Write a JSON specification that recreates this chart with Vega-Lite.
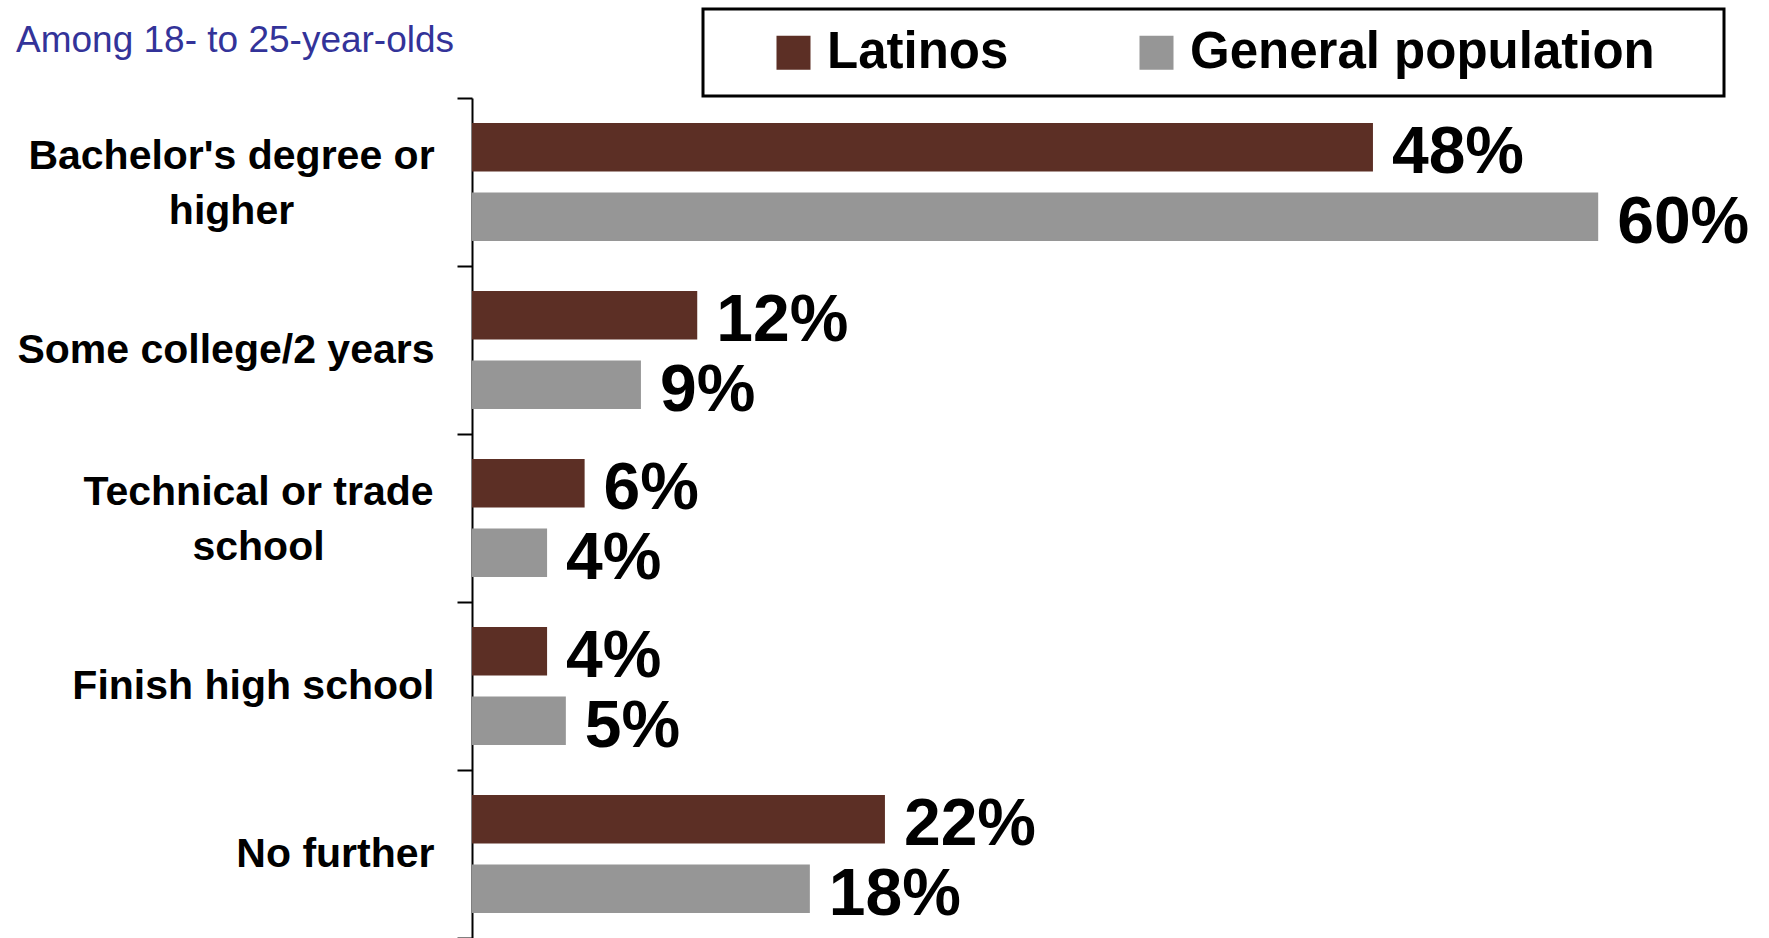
{
  "$schema": "https://vega.github.io/schema/vega-lite/v6.json",
  "width": 1297,
  "height": 840,
  "autosize": {"type": "none"},
  "padding": {"left": 472, "top": 98, "right": 0, "bottom": 0},
  "background": "white",
  "title": {
    "text": "Among 18- to 25-year-olds",
    "anchor": "start",
    "frame": "group",
    "orient": "top",
    "offset": 0,
    "dx": -456,
    "dy": 81,
    "baseline": "alphabetic",
    "font": "Liberation Sans",
    "fontSize": 37,
    "fontWeight": "normal",
    "color": "#333399"
  },
  "data": {
    "values": [
      {"level": "Bachelor's degree or higher", "group": "Latinos", "share": 0.48},
      {"level": "Bachelor's degree or higher", "group": "General population", "share": 0.60},
      {"level": "Some college/2 years", "group": "Latinos", "share": 0.12},
      {"level": "Some college/2 years", "group": "General population", "share": 0.09},
      {"level": "Technical or trade school", "group": "Latinos", "share": 0.06},
      {"level": "Technical or trade school", "group": "General population", "share": 0.04},
      {"level": "Finish high school", "group": "Latinos", "share": 0.04},
      {"level": "Finish high school", "group": "General population", "share": 0.05},
      {"level": "No further", "group": "Latinos", "share": 0.22},
      {"level": "No further", "group": "General population", "share": 0.18}
    ]
  },
  "encoding": {
    "y": {
      "field": "level",
      "type": "nominal",
      "sort": ["Bachelor's degree or higher", "Some college/2 years", "Technical or trade school", "Finish high school", "No further"],
      "scale": {"paddingInner": 0, "paddingOuter": 0},
      "title": null,
      "axis": {
        "domainColor": "black",
        "domainWidth": 2,
        "tickColor": "black",
        "tickWidth": 2,
        "tickSize": 15,
        "tickBand": "extent",
        "grid": false,
        "labelFont": "Liberation Sans",
        "labelFontWeight": "bold",
        "labelFontSize": 41,
        "labelColor": "black",
        "labelLimit": 600,
        "labelLineHeight": 55,
        "labelBaseline": "middle",
        "labelAlign": {"condition": {"test": "datum.value == \"Bachelor's degree or higher\" || datum.value == 'Technical or trade school'", "value": "center"}, "value": "right"},
        "labelPadding": {"condition": [{"test": "datum.value == \"Bachelor's degree or higher\"", "value": 226}, {"test": "datum.value == 'Technical or trade school'", "value": 199}], "value": 23},
        "labelOffset": {"condition": {"test": "datum.value == \"Bachelor's degree or higher\" || datum.value == 'Technical or trade school'", "value": -26}, "value": 0},
        "labelExpr": "datum.value == \"Bachelor's degree or higher\" ? [\"Bachelor's degree or\", \"higher\"] : datum.value == 'Technical or trade school' ? ['Technical or trade', 'school'] : datum.label"
      }
    },
    "yOffset": {
      "field": "group",
      "type": "nominal",
      "sort": ["Latinos", "General population"],
      "scale": {"paddingInner": 0.3, "paddingOuter": 0.36}
    },
    "x": {
      "field": "share",
      "type": "quantitative",
      "scale": {"domain": [0, 0.691], "nice": false, "zero": true},
      "axis": null
    }
  },
  "layer": [
    {
      "mark": {"type": "bar"},
      "encoding": {
        "color": {
          "field": "group",
          "type": "nominal",
          "sort": ["Latinos", "General population"],
          "scale": {"domain": ["Latinos", "General population"], "range": ["#5C2F25", "#969696"]},
          "legend": {
            "orient": "none",
            "legendX": 231,
            "legendY": -89,
            "direction": "horizontal",
            "title": " ",
            "titleOrient": "right",
            "titleFontSize": 10,
            "titlePadding": 51,
            "padding": 18,
            "strokeColor": "black",
            "symbolType": "square",
            "symbolSize": 1156,
            "symbolStrokeWidth": 0,
            "symbolOpacity": 1,
            "symbolOffset": 47,
            "labelFont": "Liberation Sans",
            "labelFontWeight": "bold",
            "labelFontSize": 51,
            "labelColor": "black",
            "labelOffset": 8,
            "labelLimit": 800,
            "columnPadding": 75,
            "encode": {"legend": {"update": {"strokeWidth": {"value": 3}}}}
          }
        }
      }
    },
    {
      "mark": {
        "type": "text",
        "align": "left",
        "baseline": "middle",
        "dx": 19,
        "dy": 6,
        "font": "Liberation Sans",
        "fontSize": 66,
        "fontWeight": "bold",
        "color": "black"
      },
      "encoding": {
        "text": {"field": "share", "type": "quantitative", "format": ".0%"}
      }
    }
  ],
  "config": {"view": {"stroke": null}}
}
